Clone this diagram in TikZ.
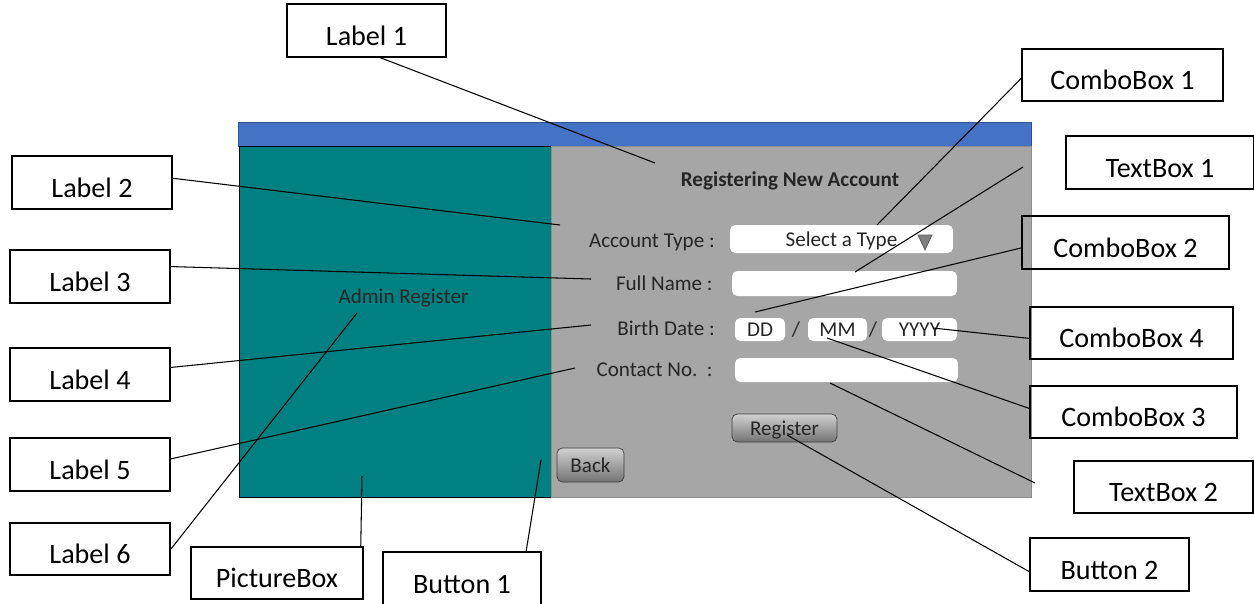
\documentclass[tikz,border=0pt]{standalone}
\usepackage{fontspec}
\setmainfont{Carlito}
\usetikzlibrary{positioning}
\definecolor{barblue}{HTML}{4472C4}
\definecolor{barline}{HTML}{2F528F}
\definecolor{panelteal}{HTML}{008080}
\definecolor{panelgray}{HTML}{A6A6A6}
\definecolor{formtext}{HTML}{262626}

\begin{document}
\begin{tikzpicture}[x=0.02cm, y=-0.02cm,
  callout/.style={draw, line width=1.1pt, minimum height=1.05cm, inner sep=0pt, text height=0.58cm, text depth=0pt, font=\fontsize{16}{19}\selectfont},
  field/.style={fill=white, rounded corners=3pt, inner sep=0pt, text depth=0pt, font=\fontsize{12}{14}\selectfont, text=formtext},
  formlbl/.style={font=\fontsize{12}{14}\selectfont, text=formtext, inner sep=0pt},
  btnface/.style={draw=black!75, rounded corners=3pt, top color=black!18, bottom color=black!55, inner sep=0pt, text depth=0pt, font=\fontsize{12}{14}\selectfont, text=formtext},
  lead/.style={line width=0.6pt}
]
\useasboundingbox (0,0) rectangle (1254,603);

% window
\filldraw[fill=barblue, draw=barline] (238,122) rectangle (1031,146);
\filldraw[fill=panelteal, draw=black] (239,146) rectangle (551,497);
\filldraw[fill=panelgray, draw=black!45] (551,146) rectangle (1031,497);

\node[formlbl, anchor=base, text=black!85] (admin) at (403.5,303) {Admin Register};
\node[formlbl, anchor=base, font=\fontsize{12}{14}\selectfont\bfseries] (title) at (790,186) {Registering New Account};

\node[formlbl, anchor=base east] (acctlbl) at (715,247) {Account Type :};
\node[formlbl, anchor=base east] (namelbl) at (713,290) {Full Name :};
\node[formlbl, anchor=base east] (birthlbl) at (715,335) {Birth Date :};
\node[formlbl, anchor=base east] (tellbl) at (713,376) {Contact No.\ \ :};

\node[field, minimum width=4.46cm, minimum height=0.56cm] (typebox) at (841.5,239) {Select a Type};
\filldraw[fill=black!50, draw=black!65] (918,235) -- (932,235) -- (925,250) -- cycle;
\node[field, minimum width=4.5cm, minimum height=0.5cm] (namebox) at (844.5,283.5) {};
\node[field, minimum width=1cm, minimum height=0.46cm] (ddbox) at (760,329.5) {DD};
\node[formlbl] (slash1) at (796,330) {/};
\node[field, minimum width=1.18cm, minimum height=0.46cm] (mmbox) at (837.5,329.5) {MM};
\node[formlbl] (slash2) at (873,330) {/};
\node[field, minimum width=1.5cm, minimum height=0.46cm] (yybox) at (919.5,329.5) {YYYY};
\node[field, minimum width=4.46cm, minimum height=0.48cm] (telbox) at (846.5,370) {};
\node[btnface, minimum width=2.1cm, minimum height=0.56cm] (regbtn) at (784.5,428) {Register};
\node[btnface, minimum width=1.34cm, minimum height=0.68cm] (backbtn) at (590.5,465) {Back};

% callouts
\node[callout, minimum width=3.18cm] (lab1) at (366.5,30.5) {Label 1};
\foreach \i/\x/\y in {2/92/182.5,3/90/276.5,4/90/374.5,5/90/464.5,6/90/549}
  \node[callout, minimum width=3.2cm] (lab\i) at (\x,\y) {Label \i};
\node[callout, minimum width=3.44cm] (picbox) at (277,573) {PictureBox};
\node[callout, minimum width=3.16cm] (btn1) at (462,578.5) {Button 1};
\node[callout, minimum width=4.02cm] (cb1) at (1122.5,75) {ComboBox 1};
\node[callout, minimum width=3.76cm] (tb1) at (1160,162.5) {TextBox 1};
\node[callout, minimum width=4.14cm] (cb2) at (1125.5,242.5) {ComboBox 2};
\node[callout, minimum width=4.06cm] (cb4) at (1131.5,333) {ComboBox 4};
\node[callout, minimum width=4.14cm] (cb3) at (1133.5,412) {ComboBox 3};
\node[callout, minimum width=3.58cm] (tb2) at (1163.5,487) {TextBox 2};
\node[callout, minimum width=3.18cm] (btn2) at (1109.5,564.5) {Button 2};

% leader ends
\coordinate (l1end) at (655,163);
\coordinate (l2end) at (560,225);
\coordinate (l3end) at (591,279);
\coordinate (l4end) at (591,325);
\coordinate (l5end) at (575,368);
\coordinate (l6end) at (357,313);
\coordinate (picend) at (362,476);
\coordinate (b1end) at (541,460);
\coordinate (c1end) at (877,225);
\coordinate (t1start) at (1023,167);
\coordinate (t1end) at (855,272);
\coordinate (c2end) at (755,312);
\coordinate (c4end) at (933,328);
\coordinate (c3end) at (827,338);
\coordinate (t2start) at (1035,483);
\coordinate (t2end) at (830,383);
\coordinate (b2end) at (787,435);

\foreach \a/\b in {lab1.-63/l1end, lab2.3/l2end, lab3.7/l3end, lab4.5/l4end, lab5.4/l5end,
                   lab6.east/l6end, picbox.18/picend, btn1.23/b1end, cb1.182/c1end,
                   t1start/t1end, cb2.183/c2end, cb4.183/c4end, cb3.178/c3end,
                   t2start/t2end, btn2.185/b2end}
  \draw[lead] (\a) -- (\b);

\end{tikzpicture}
\end{document}
